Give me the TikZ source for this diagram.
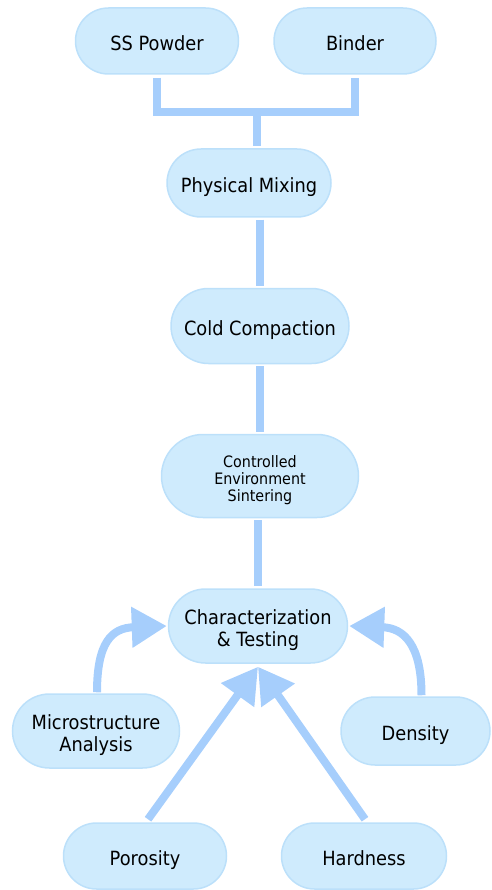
\documentclass[tikz,border=0pt]{standalone}
\usepackage{fontspec}
\usepackage{graphicx}
\setmainfont{DejaVu Sans}
\usetikzlibrary{arrows.meta,shapes.misc}
\definecolor{nodefill}{RGB}{207,235,253}
\definecolor{nodeline}{RGB}{188,224,250}
\definecolor{connc}{RGB}{166,206,252}
\newcommand{\stx}[1]{\raisebox{-5pt}[\height][\depth]{\scalebox{1}[1.1]{\begin{tabular}{@{}c@{}}#1\end{tabular}}}}
\tikzset{
  box/.style={rounded rectangle, draw=nodeline, fill=nodefill, line width=1.5pt,
    inner sep=0pt, align=center, font=\fontsize{17.8}{19.5}\selectfont},
  smalltext/.style={font=\fontsize{14.3}{15.8}\selectfont},
  conn/.style={draw=connc, line width=8pt},
  bigarrow/.style={conn, -{Triangle[length=35pt,width=39pt]}},
}
\begin{document}
\begin{tikzpicture}[x=1pt,y=-1pt]
\useasboundingbox (0,0) rectangle (491,890);
\node[box, minimum width=163pt, minimum height=66pt] (ss) at (157,41) {\stx{SS Powder}};
\node[box, minimum width=162pt, minimum height=66pt] (binder) at (355,41) {\stx{Binder}};
\node[box, minimum width=164pt, minimum height=68pt] (mix) at (249,183) {\stx{Physical Mixing}};
\node[box, minimum width=178pt, minimum height=75pt] (cold) at (260,326) {\stx{Cold Compaction}};
\node[box, smalltext, minimum width=197pt, minimum height=83pt] (sinter) at (260,476) {\stx{Controlled\\Environment\\Sintering}};
\node[box, minimum width=179pt, minimum height=74pt] (char) at (258,626) {\stx{Characterization\\\& Testing}};
\node[box, minimum width=167pt, minimum height=74pt] (micro) at (96,731) {\stx{Microstructure\\Analysis}};
\node[box, minimum width=149pt, minimum height=68pt] (dens) at (415.5,731) {\stx{Density}};
\node[box, minimum width=163pt, minimum height=66pt] (poro) at (145,856) {\stx{Porosity}};
\node[box, minimum width=165pt, minimum height=66pt] (hard) at (364,856) {\stx{Hardness}};

\coordinate (jn) at (257,112);
\draw[conn] ([yshift=-3pt]ss.south) |- (jn) -| ([yshift=-3pt]binder.south);
\draw[conn] (jn) -- ([yshift=2pt]mix.north -| jn);
\draw[conn] ([yshift=-2pt]mix.south -| cold.north) -- ([yshift=2pt]cold.north);
\draw[conn] ([yshift=-2pt]cold.south) -- ([yshift=2pt]sinter.north);
\draw[conn] ([yshift=-2pt]sinter.south -| char.north) -- ([yshift=2pt]char.north);

\draw[bigarrow] ([xshift=1pt,yshift=1pt]micro.north) .. controls +(0,-50) and +(-55,2) .. ([xshift=-1pt]char.west);
\draw[bigarrow] ([xshift=6pt,yshift=1pt]dens.north) .. controls +(0,-50) and +(55,2) .. ([xshift=1pt]char.east);
\draw[bigarrow] ([xshift=3pt,yshift=3pt]poro.north) -- ([yshift=-3pt]char.south);
\draw[bigarrow] ([xshift=1pt,yshift=3pt]hard.north) -- ([yshift=-3pt]char.south);
\end{tikzpicture}
\end{document}
